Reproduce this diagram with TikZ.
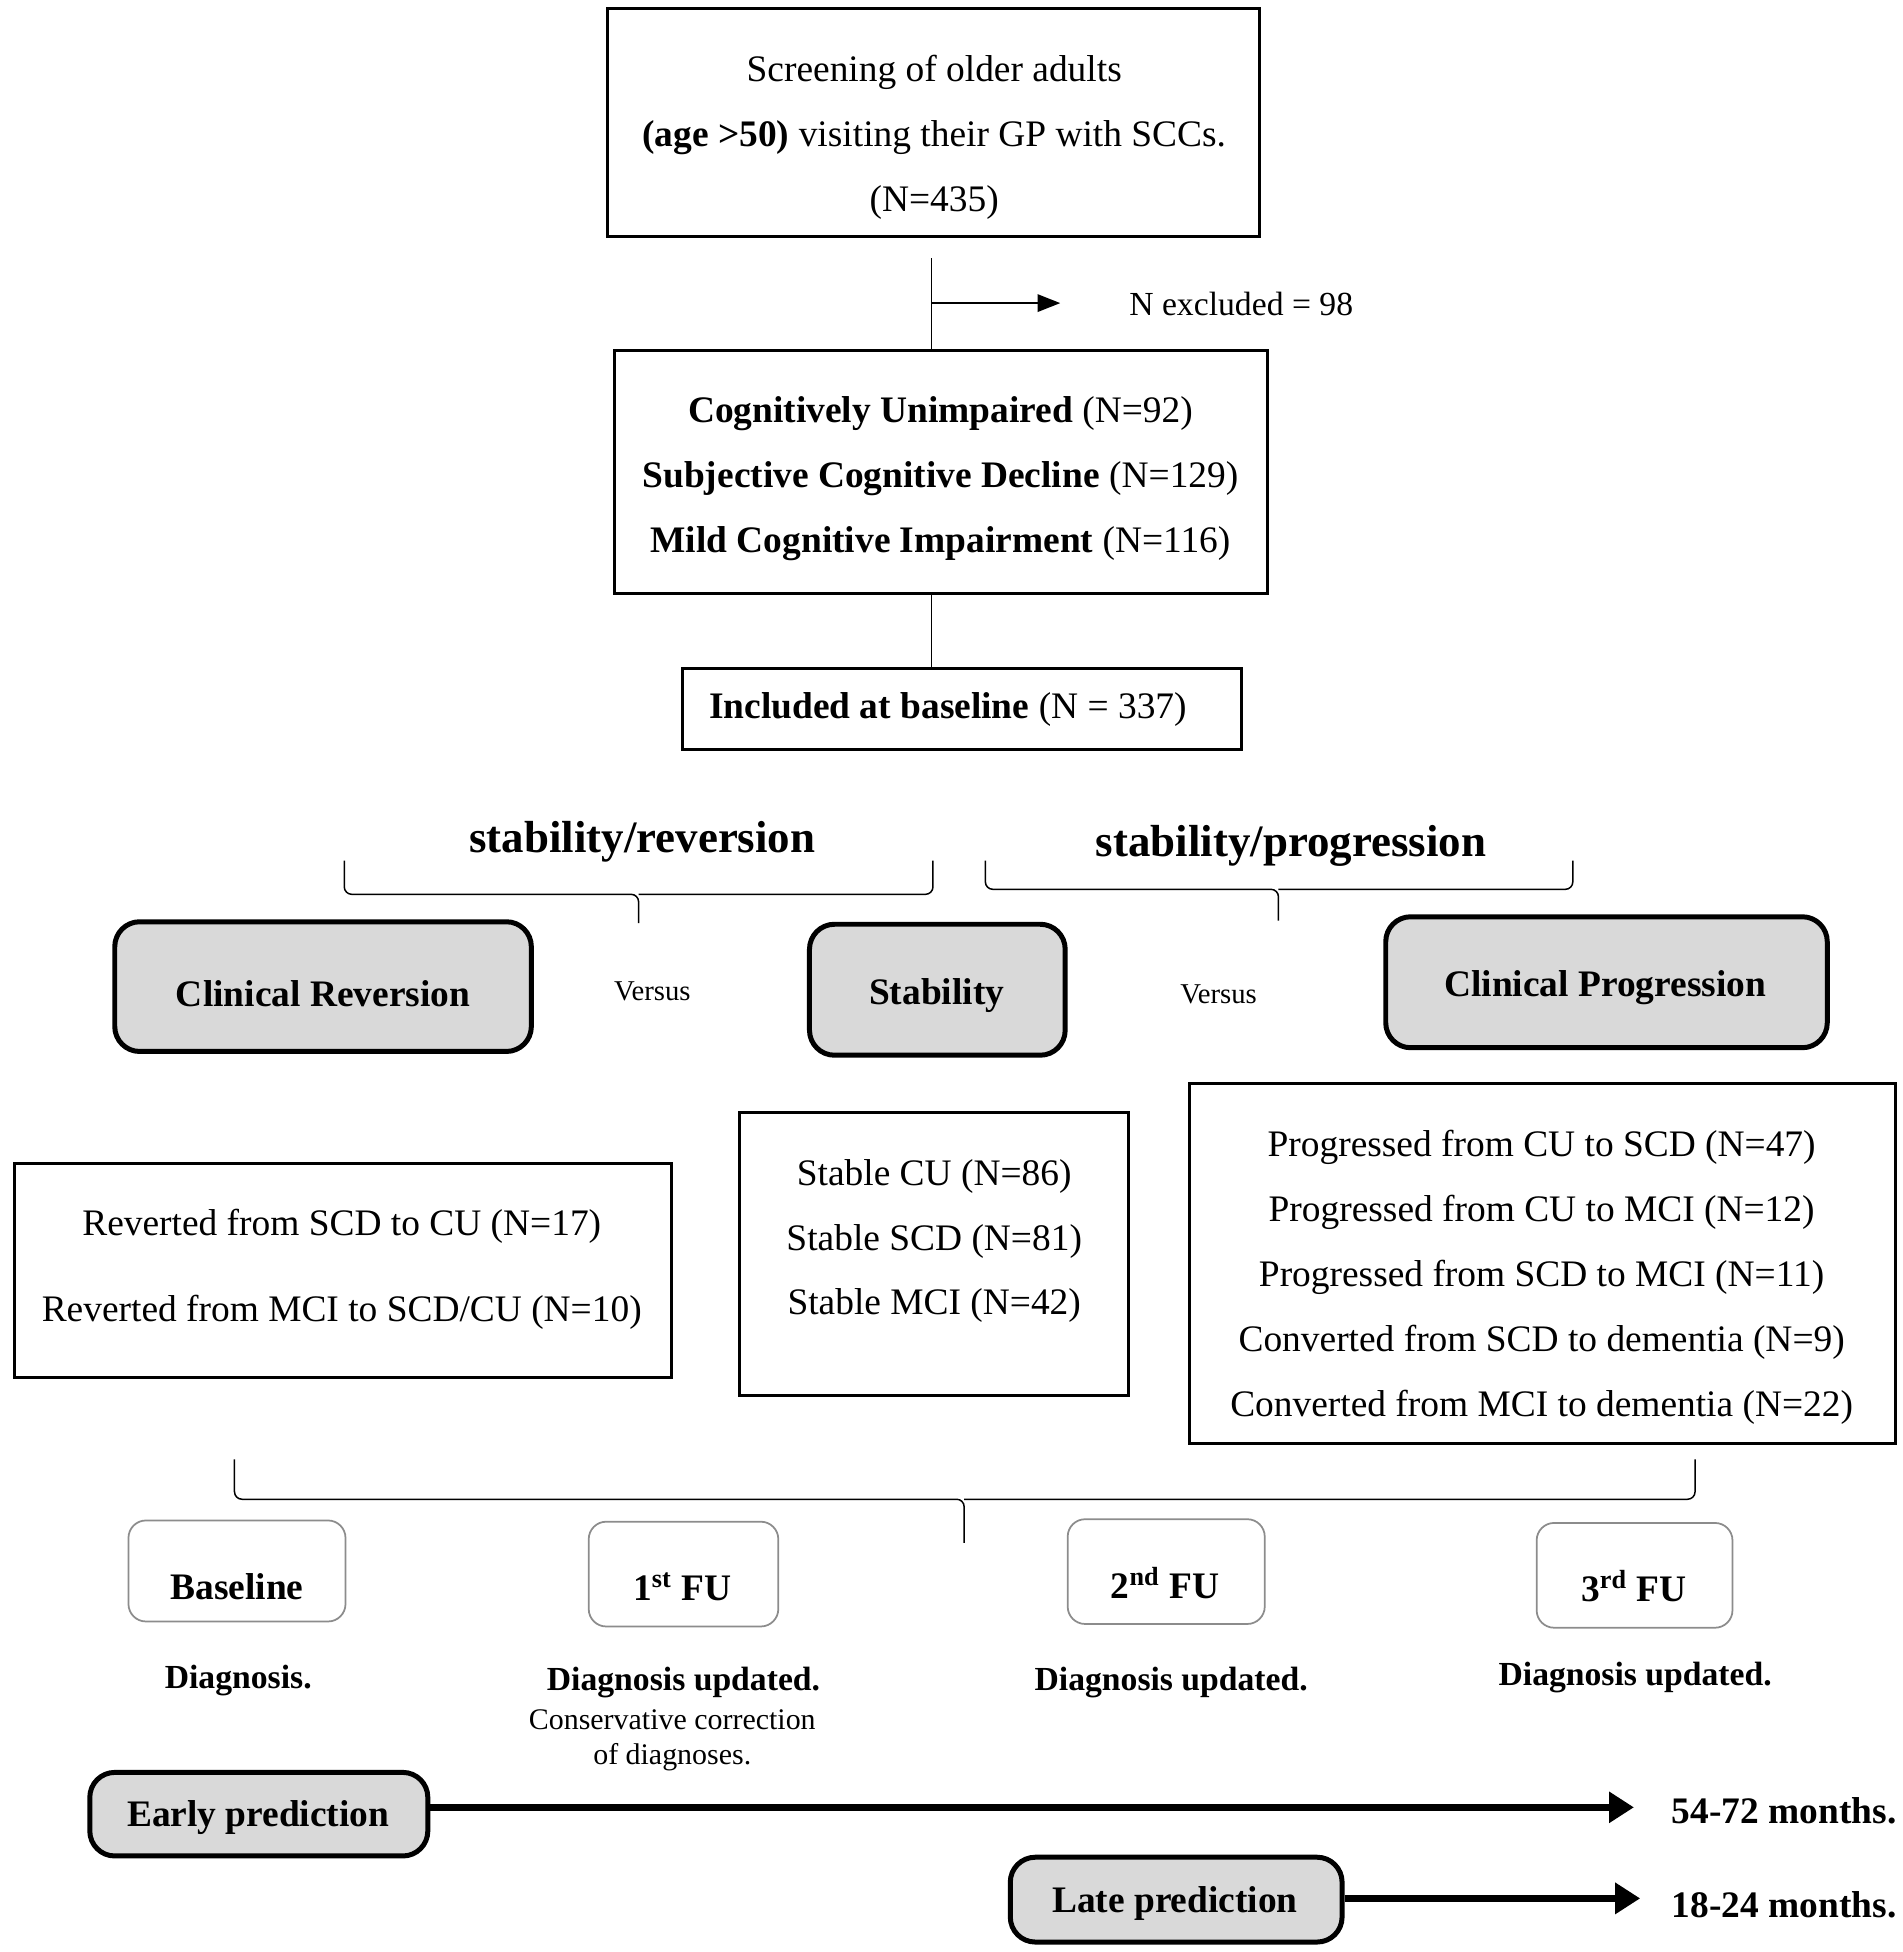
\documentclass[tikz,border=0pt]{standalone}
\usepackage{fontspec}
\setmainfont{Liberation Serif}
\usetikzlibrary{arrows.meta,fit}
\definecolor{boxgray}{RGB}{217,217,217}
\definecolor{fugray}{RGB}{140,140,140}
\begin{document}
\begin{tikzpicture}[x=0.5pt,y=-0.5pt,
  plainbox/.style={draw, line width=1.2pt, inner sep=0pt},
  graybox/.style={draw, line width=2pt, fill=boxgray, rounded corners=10pt, inner sep=0pt},
  fubox/.style={draw=fugray, line width=0.7pt, rounded corners=7pt, inner sep=0pt},
  txt/.style={inner sep=0pt, yshift=-1pt, align=center, font=\fontsize{15}{26}\selectfont},
  btxt/.style={inner sep=0pt, yshift=-1pt, align=center, font=\fontsize{15}{26}\selectfont\bfseries},
  headtxt/.style={inner sep=0pt, yshift=-1pt, font=\fontsize{18}{22}\selectfont\bfseries},
  vtxt/.style={inner sep=0pt, yshift=-1pt, font=\fontsize{11.5}{14}\selectfont},
  diagtxt/.style={inner sep=0pt, yshift=-1pt, align=center, font=\fontsize{13.5}{16}\selectfont\bfseries},
  smalltxt/.style={inner sep=0pt, yshift=-1pt, align=center, font=\fontsize{12}{14}\selectfont},
  conn/.style={line width=0.6pt},
  brace/.style={line width=0.6pt, rounded corners=3pt},
  bigarrow/.style={line width=2.8pt, -{Triangle[length=10pt,width=12pt]}},
  smallarrow/.style={line width=0.6pt, -{Triangle[length=9pt,width=7pt]}}
]
\useasboundingbox (0,0) rectangle (1525,1565);

% top flow
\node[plainbox, fit={(487,7) (1010,190)}] (top) {};
\node[txt] (toptxt) at (749,108) {Screening of older adults\\\textbf{(age >50)} visiting their GP with SCCs.\\(N=435)};
\coordinate (c1) at (747,207);
\coordinate (c2) at (747,243);
\coordinate (c3) at (850,243);
\node[plainbox, fit={(493,281) (1016,476)}] (mid) {};
\node[txt] (midtxt) at (754,382) {\textbf{Cognitively Unimpaired} (N=92)\\\textbf{Subjective Cognitive Decline} (N=129)\\\textbf{Mild Cognitive Impairment} (N=116)};
\draw[conn] (c1) -- (c1 |- mid.north);
\draw[smallarrow] (c2) -- (c3);
\node[inner sep=0pt, yshift=-1pt, anchor=west, font=\fontsize{13.5}{16}\selectfont] (excl) at (905,242) {N excluded = 98};
\node[plainbox, fit={(547,536) (995,601)}] (incl) {};
\node[txt] (incltxt) at (760,567) {\textbf{Included at baseline} (N = 337)};
\draw[conn] (c1 |- mid.south) -- (c1 |- incl.north);

% headings and braces
\node[headtxt] (hrev) at (515,673) {stability/reversion};
\node[headtxt] (hprog) at (1035,676) {stability/progression};
\draw[brace] (276,690) |- (512,717) -- (512,740);
\draw[brace] (512,717) -| (748,690);
\draw[brace] (790,690) |- (1025,713) -- (1025,738);
\draw[brace] (1025,713) -| (1261,690);

% group boxes
\node[graybox, fit={(92,739) (426,843)}] (crev) {};
\node[btxt] (crevtxt) at (259,795) {Clinical Reversion};
\node[vtxt] (vs1) at (523,793) {Versus};
\node[graybox, fit={(649,741) (854,846)}] (stab) {};
\node[btxt] (stabtxt) at (751,796) {Stability};
\node[vtxt] (vs2) at (977,795) {Versus};
\node[graybox, fit={(1111,735) (1465,840)}] (cprog) {};
\node[btxt] (cprogtxt) at (1287,790) {Clinical Progression};

% detail boxes
\node[plainbox, fit={(12,933) (538,1104)}] (rev) {};
\node[txt, font=\fontsize{15}{34.5}\selectfont] (revtxt) at (274,1016) {Reverted from SCD to CU (N=17)\\Reverted from MCI to SCD/CU (N=10)};
\node[plainbox, fit={(593,892) (905,1119)}] (stb) {};
\node[txt] (stbtxt) at (749,993) {Stable CU (N=86)\\Stable SCD (N=81)\\Stable MCI (N=42)};
\node[plainbox, fit={(954,869) (1520,1157)}] (prg) {};
\node[txt, font=\fontsize{15}{26.1}\selectfont] (prgtxt) at (1236,1022) {Progressed from CU to SCD (N=47)\\Progressed from CU to MCI (N=12)\\Progressed from SCD to MCI (N=11)\\Converted from SCD to dementia (N=9)\\Converted from MCI to dementia (N=22)};

% bottom brace
\draw[brace] (188,1170) |- (773,1202) -- (773,1237);
\draw[brace] (773,1202) -| (1359,1170);

% follow-up boxes
\node[fubox, fit={(103,1219) (277,1300)}] (fu0) {};
\node[btxt] (fu0txt) at (190,1270) {Baseline};
\node[fubox, fit={(472,1220) (624,1304)}] (fu1) {};
\node[btxt] (fu1txt) at (547,1270) {1\textsuperscript{st} FU};
\node[fubox, fit={(856,1218) (1014,1302)}] (fu2) {};
\node[btxt] (fu2txt) at (934,1267) {2\textsuperscript{nd} FU};
\node[fubox, fit={(1232,1221) (1389,1305)}] (fu3) {};
\node[btxt] (fu3txt) at (1310,1270) {3\textsuperscript{rd} FU};

\node[diagtxt] (d0) at (191,1345) {Diagnosis.};
\node[diagtxt] (d1) at (548,1347) {Diagnosis updated.};
\node[smalltxt] (d1b) at (539,1393) {Conservative correction\\of diagnoses.};
\node[diagtxt] (d2) at (939,1347) {Diagnosis updated.};
\node[diagtxt] (d3) at (1311,1343) {Diagnosis updated.};

% prediction rows
\node[graybox, fit={(72,1421) (343,1488)}] (early) {};
\node[btxt] (earlytxt) at (207,1455) {Early prediction};
\coordinate (e1) at (1310,1449);
\draw[bigarrow] (early.east |- e1) -- (e1);
\node[btxt, anchor=west] (m1) at (1340,1450) {54-72 months.};
\node[graybox, fit={(810,1489) (1076,1557)}] (late) {};
\node[btxt] (latetxt) at (942,1524) {Late prediction};
\coordinate (e2) at (1315,1522);
\draw[bigarrow] (late.east |- e2) -- (e2);
\node[btxt, anchor=west] (m2) at (1340,1525) {18-24 months.};
\end{tikzpicture}
\end{document}
